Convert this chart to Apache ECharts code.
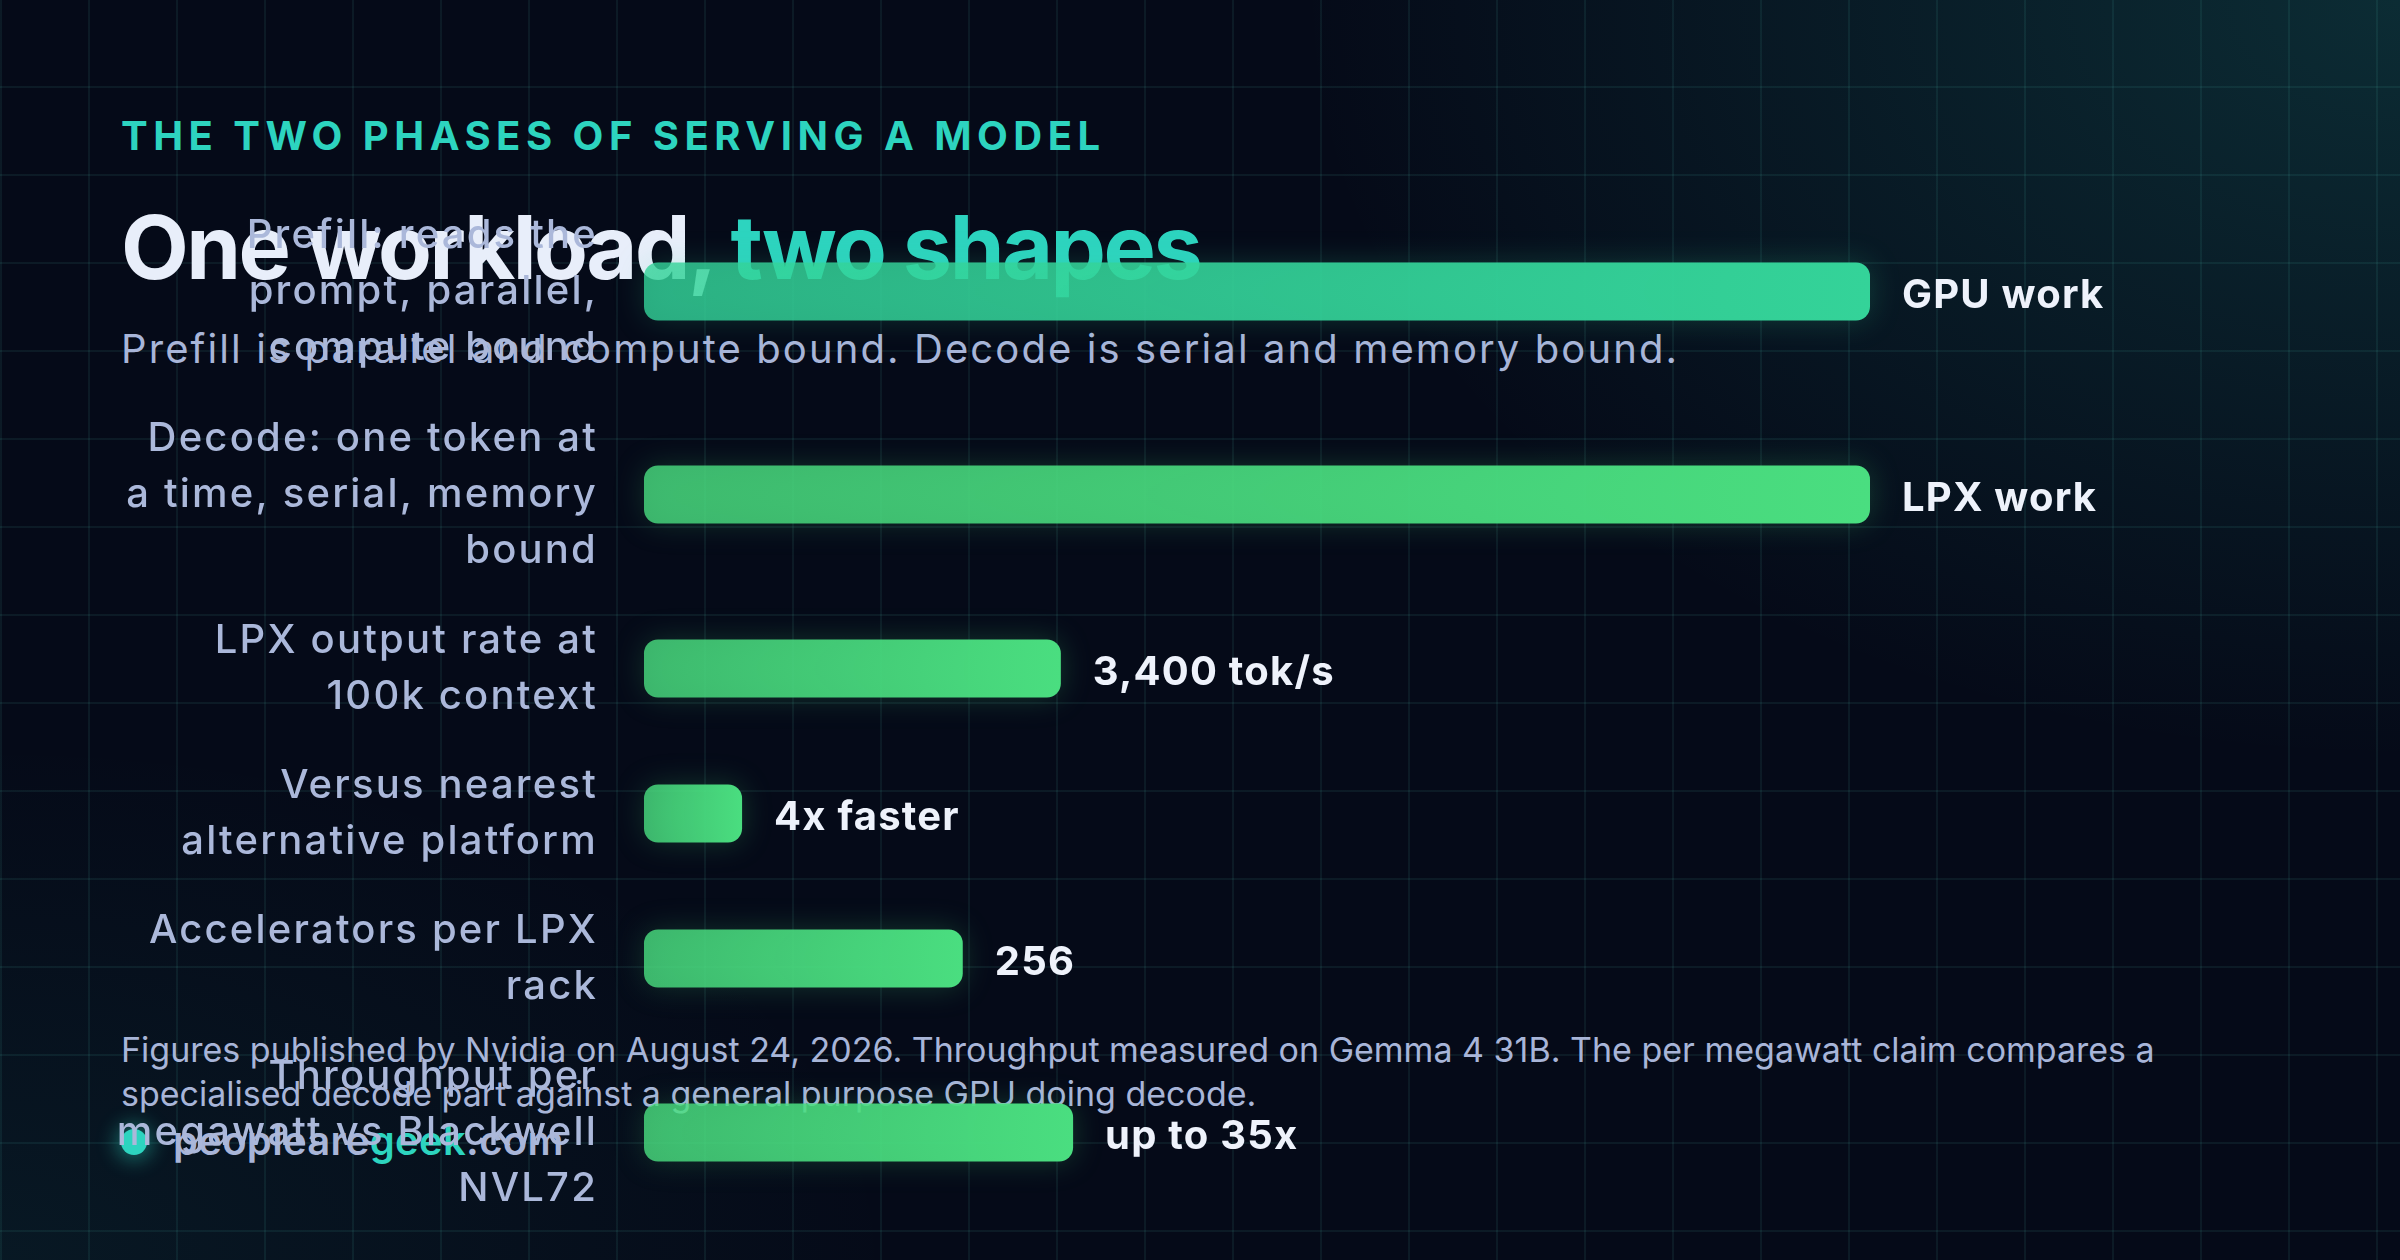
<!DOCTYPE html>
<html>
<head>
<meta charset="utf-8">
<script src="https://cdn.jsdelivr.net/npm/echarts@6/dist/echarts.min.js"></script>
<style>
  html, body { margin: 0; padding: 0; background: #050a18; }
  #stage {
    position: relative; width: 2400px; height: 1260px; overflow: hidden;
    font-family: "Inter", "Noto Sans", sans-serif;
    background:
      linear-gradient(90deg, rgba(94,234,212,0.075) 2px, transparent 2px) 0 0 / 88px 88px,
      linear-gradient(0deg, rgba(94,234,212,0.075) 2px, transparent 2px) 0 0 / 88px 88px,
      radial-gradient(ellipse 1100px 760px at 100% 0%, rgba(45,212,191,0.17), rgba(45,212,191,0) 100%),
      radial-gradient(ellipse 900px 520px at 0% 100%, rgba(45,212,191,0.07), rgba(45,212,191,0) 100%),
      #050a18;
  }
  .txt { position: absolute; left: 121px; white-space: nowrap; line-height: 1; }
  .eyebrow { top: 116px; font-size: 40px; font-weight: 700; letter-spacing: 5.5px; color: #2dd4bf; }
  .title { top: 203px; font-size: 88px; font-weight: 700; letter-spacing: -2.5px; color: #e8eefa; }
  .title .accent { color: #2dd4bf; }
  .sub { top: 329px; font-size: 40px; font-weight: 400; letter-spacing: 2.1px; color: #a8b5d8; }
  .foot { top: 1028px; font-size: 34px; line-height: 44px; font-weight: 400; color: #a8b5d8; }
  .brand { top: 1121px; font-size: 40px; font-weight: 600; letter-spacing: 0.3px; color: #a8b5d8; }
  .brand .geek { color: #2dd4bf; }
  .dot { position: absolute; left: 121px; top: 1129px; width: 26px; height: 26px; border-radius: 50%;
         background: #2dd4bf; box-shadow: 0 0 20px 5px rgba(45,212,191,0.45); }
  #chart { position: absolute; left: 0; top: 0; width: 2400px; height: 1260px; }
</style>
</head>
<body>
<div id="stage">
  <div class="txt eyebrow">THE TWO PHASES OF SERVING A MODEL</div>
  <div class="txt title">One workload, <span class="accent">two shapes</span></div>
  <div class="txt sub">Prefill is parallel and compute bound. Decode is serial and memory bound.</div>
  <div class="txt foot">Figures published by Nvidia on August 24, 2026. Throughput measured on Gemma 4 31B. The per megawatt claim compares a<br>specialised decode part against a general purpose GPU doing decode.</div>
  <div class="dot"></div>
  <div class="txt brand" style="left:173px">peoplearegeek.com</div>
  <div id="chart"></div>
</div>
<script>
// ---- data ----
const categories = [
  "Prefill: reads the\nprompt, parallel,\ncompute bound",
  "Decode: one token at\na time, serial, memory\nbound",
  "LPX output rate at\n100k context",
  "Versus nearest\nalternative platform",
  "Accelerators per LPX\nrack",
  "Throughput per\nmegawatt vs Blackwell\nNVL72"
];
const barValues = [100, 100, 34, 8, 26, 35];
const valueLabels = ["GPU work", "LPX work", "3,400 tok/s", "4x faster", "256", "up to 35x"];

// brand text colouring
document.querySelector('.brand').innerHTML = 'peoplearegeek.com'.replace('geek', '<span class="geek">geek</span>');

// the reference typeface is wider than the installed one: add a little tracking to canvas text
(function () {
  const proto = CanvasRenderingContext2D.prototype;
  if (!('letterSpacing' in proto)) return;
  const orig = proto.fillText;
  proto.fillText = function () {
    this.letterSpacing = /\b(700|bold)\b/.test(this.font) ? '1.2px' : '2.2px';
    const r = orig.apply(this, arguments);
    this.letterSpacing = '0px';
    return r;
  };
})();

// ---- build slot layout: each label line takes two slots plus one slot of padding ----
const slotLabels = [];
const slotData = [];
categories.forEach((label, i) => {
  const lines = label.split('\n').length;
  const slots = 2 * lines + 1;
  const mid = Math.floor(slots / 2);
  const base = i === 0 ? [52, 211, 153] : [74, 222, 128];
  for (let s = 0; s < slots; s++) {
    if (s === mid) {
      slotLabels.push(label);
      slotData.push({
        value: barValues[i],
        itemStyle: {
          color: new echarts.graphic.LinearGradient(0, 0, 1, 0, [
            { offset: 0, color: `rgba(${base.join(',')},0.8)` },
            { offset: 1, color: `rgba(${base.join(',')},1)` }
          ]),
          shadowColor: `rgba(${base.join(',')},0.22)`
        },
        label: { formatter: valueLabels[i] }
      });
    } else {
      slotLabels.push('');
      slotData.push('-');
    }
  }
});

const chart = echarts.init(document.getElementById('chart'), null, { renderer: 'canvas' });
chart.setOption({
  backgroundColor: 'transparent',
  animation: false,
  grid: { left: 644, right: 530, top: 190, bottom: 26, containLabel: false, outerBoundsMode: 'none' },
  xAxis: { type: 'value', min: 0, max: 100, show: false },
  yAxis: {
    type: 'category',
    inverse: true,
    data: slotLabels,
    axisLine: { show: false },
    axisTick: { show: false },
    splitLine: { show: false },
    z: 5,
    axisLabel: {
      interval: 0,
      margin: 46,
      align: 'right',
      padding: [6, 0, 0, 0],
      fontFamily: 'Inter',
      fontSize: 40,
      fontWeight: 500,
      lineHeight: 56,
      color: '#abb8da'
    }
  },
  series: [{
    type: 'bar',
    data: slotData,
    barWidth: 58,
    z: 3,
    silent: true,
    itemStyle: { borderRadius: 14, shadowBlur: 30 },
    label: {
      show: true,
      position: 'right',
      distance: 32,
      offset: [0, 4],
      fontFamily: 'Inter',
      fontSize: 40,
      fontWeight: 700,
      color: '#eef2fb'
    }
  }]
});
</script>
</body>
</html>
